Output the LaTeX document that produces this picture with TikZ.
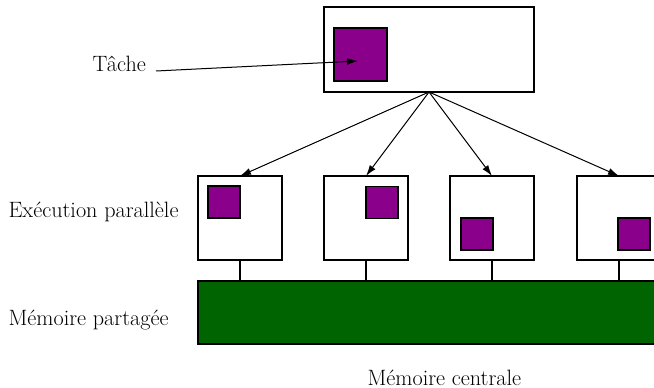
\documentclass[tikz,border=0pt]{standalone}
\usetikzlibrary{arrows.meta}
\definecolor{tachecol}{HTML}{8B008B}
\definecolor{memcol}{HTML}{006400}
\begin{document}
\begin{tikzpicture}[x=1pt,y=-1pt,line width=1.1pt,
  cpubox/.style={draw=black,fill=white,minimum width=84pt,minimum height=84pt,inner sep=0pt,outer sep=0pt},
  task/.style={draw=black,fill=tachecol,minimum width=32pt,minimum height=32pt,inner sep=0pt,outer sep=0pt},
  lbl/.style={font=\fontsize{22.2}{26}\selectfont,inner sep=0pt,anchor=base west},
  arr/.style={line width=1pt,-{Latex[length=11pt,width=7pt]}}]
\useasboundingbox (0,0) rectangle (654,388);
\clip (0,0) rectangle (654,388);
% top box
\node[draw=black,fill=white,minimum width=210pt,minimum height=85pt,inner sep=0pt,outer sep=0pt] (top) at (429,49.5) {};
\node[task,minimum width=53pt,minimum height=53pt] (toptask) at (360.5,54.5) {};
\coordinate (tip) at (358,61);
% processors
\node[cpubox] (p1) at (240,218) {};
\node[cpubox] (p2) at (366,218) {};
\node[cpubox] (p3) at (492,218) {};
\node[cpubox] (p4) at (619,218) {};
\node[task] (t1) at (224,202) {};
\node[task] (t2) at (382,202.5) {};
\node[task] (t3) at (477,234) {};
\node[task] (t4) at (634,234) {};
% memory
\node[draw=black,fill=memcol,minimum width=470pt,minimum height=63pt,inner sep=0pt,outer sep=0pt,anchor=north west] (mem) at (198,281) {};
\foreach \i in {1,...,4}{
  \draw (p\i.south) -- (p\i.south |- mem.north);
}
% arrows
\foreach \i in {1,...,4}{
  \draw[arr] (top.south) -- (p\i.north);
}
% labels
\node[lbl] (ltache) at (92,71) {Tâche};
\coordinate (tstart) at (156,71);
\draw[arr] (tstart) -- (tip);
\node[lbl] (lexec) at (8,217) {Exécution parallèle};
\node[lbl] (lmem) at (8,325) {Mémoire partagée};
\node[lbl] (lcent) at (367,385) {Mémoire centrale};
\end{tikzpicture}
\end{document}
